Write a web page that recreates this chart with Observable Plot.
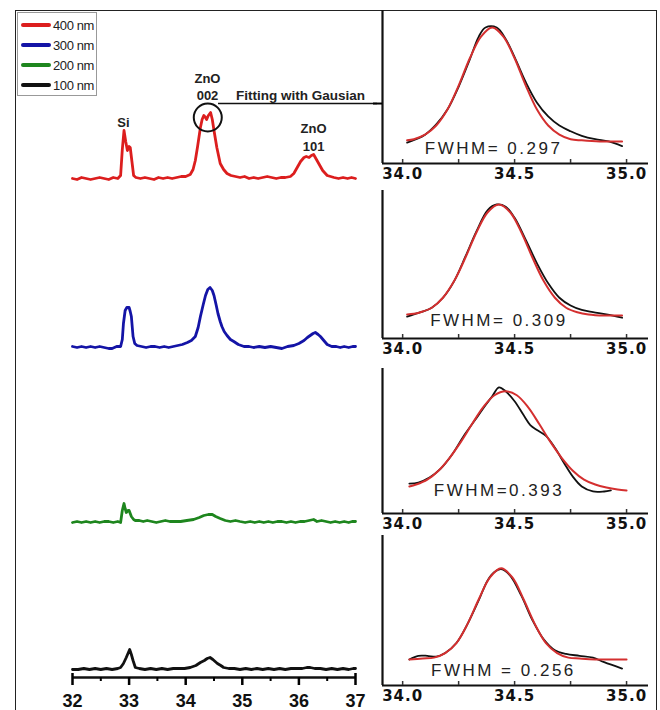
<!DOCTYPE html>
<html><head><meta charset="utf-8">
<script src="https://cdn.jsdelivr.net/npm/d3@7"></script>
<script src="https://cdn.jsdelivr.net/npm/@observablehq/plot@0.6"></script>
<style>
body{margin:0;background:#fff;}
#wrap{position:relative;width:660px;height:710px;overflow:hidden;font-family:"Liberation Sans",Arial,sans-serif;background:#fff;}
#wrap svg{position:absolute;overflow:visible;background:transparent;}
#frame{position:absolute;left:15px;top:10px;width:642px;height:712px;border:1px solid #222;box-sizing:border-box;}
#legend{position:absolute;left:17px;top:12px;width:80px;height:84px;border:1px solid #999;box-sizing:border-box;background:#fff;}
#legend .row{position:absolute;left:3px;height:20px;display:flex;align-items:center;white-space:nowrap;width:80px;}
#legend .sw{width:30px;height:4px;margin-right:2px;border-radius:2px;flex:none;}
#legend .lab{font-size:13px;color:#222;font-family:"Liberation Sans Narrow","Liberation Sans",Arial,sans-serif;letter-spacing:-0.4px;white-space:nowrap;}
</style></head><body>
<div id="wrap"><div id="frame"></div></div>
<script>
// ---------- data: left XRD patterns (2θ in degrees, intensity a.u.) ----------
const seriesNames = ["400 nm", "300 nm", "200 nm", "100 nm"];
const seriesColors = ["#dc1e1e", "#1414a6", "#1e861e", "#111111"];
const seriesOffsets = [498, 330, 155, 8];

const xrd400 = [[32.00,1],[32.08,0],[32.16,2],[32.24,1],[32.32,0],[32.40,1],[32.48,2],[32.56,1],[32.64,0],[32.72,2],[32.80,1],[32.85,4],[32.88,30],[32.91,49],[32.94,38],[32.97,29],[33.00,33],[33.02,32],[33.05,18],[33.08,4],[33.12,2],[33.20,1],[33.28,2],[33.36,1],[33.44,0],[33.52,2],[33.60,1],[33.68,2],[33.76,1],[33.84,2],[33.92,3],[34.00,3],[34.08,5],[34.13,10],[34.17,19],[34.21,33],[34.26,52],[34.29,60],[34.32,64],[34.35,62],[34.37,60],[34.40,64],[34.44,67],[34.47,60],[34.50,49],[34.55,32],[34.61,16],[34.67,10],[34.73,6],[34.80,4],[34.88,3],[34.96,2],[35.04,3],[35.12,1],[35.20,2],[35.28,1],[35.36,2],[35.44,3],[35.52,2],[35.60,1],[35.68,2],[35.76,2],[35.85,3],[35.91,6],[35.97,12],[36.03,18],[36.09,22],[36.13,23],[36.18,22],[36.22,24],[36.26,25],[36.30,21],[36.35,16],[36.42,9],[36.50,4],[36.56,3],[36.62,2],[36.70,1],[36.78,2],[36.86,1],[36.93,2],[37.00,1]];
const xrd300 = [[32.00,1],[32.08,0],[32.16,1],[32.24,0],[32.32,1],[32.40,0],[32.48,1],[32.56,0],[32.64,-1],[32.70,-1],[32.78,1],[32.85,1],[32.88,8],[32.90,24],[32.93,37],[32.96,40],[33.00,40],[33.02,36],[33.04,31],[33.07,11],[33.10,4],[33.14,2],[33.22,1],[33.30,0],[33.38,1],[33.46,1],[33.54,0],[33.62,1],[33.70,0],[33.78,1],[33.86,2],[33.94,3],[34.03,5],[34.10,7],[34.17,11],[34.22,20],[34.26,31],[34.31,43],[34.35,52],[34.39,58],[34.43,60],[34.47,57],[34.50,52],[34.54,42],[34.57,34],[34.61,26],[34.64,21],[34.68,16],[34.73,12],[34.79,8],[34.85,6],[34.93,3],[35.03,1],[35.12,1],[35.20,0],[35.30,1],[35.40,0],[35.50,1],[35.60,0],[35.70,-1],[35.80,1],[35.91,2],[36.00,4],[36.09,7],[36.15,10],[36.20,12],[36.25,14],[36.29,15],[36.34,13],[36.38,11],[36.44,7],[36.50,3],[36.58,1],[36.66,1],[36.73,0],[36.80,1],[36.88,0],[36.95,1],[37.00,1]];
const xrd200 = [[32.00,0],[32.08,1],[32.16,0],[32.24,1],[32.32,0],[32.40,1],[32.48,0],[32.56,1],[32.64,1],[32.72,0],[32.80,1],[32.85,0],[32.88,12],[32.91,19],[32.93,14],[32.95,10],[32.98,12],[33.00,12],[33.04,6],[33.08,3],[33.11,2],[33.18,2],[33.25,1],[33.32,2],[33.40,1],[33.48,0],[33.56,1],[33.64,2],[33.72,1],[33.80,1],[33.91,1],[34.02,2],[34.14,3],[34.24,5],[34.32,7],[34.40,8],[34.47,8],[34.53,6],[34.61,4],[34.70,2],[34.79,1],[34.88,2],[34.96,1],[35.05,0],[35.14,1],[35.22,0],[35.30,1],[35.38,0],[35.46,1],[35.54,0],[35.62,1],[35.70,1],[35.78,0],[35.86,1],[35.94,0],[36.02,1],[36.10,1],[36.18,2],[36.26,3],[36.32,1],[36.40,2],[36.48,1],[36.56,0],[36.64,1],[36.72,0],[36.80,1],[36.88,0],[36.94,1],[37.00,1]];
const xrd100 = [[32.00,0],[32.10,0],[32.20,1],[32.30,0],[32.40,1],[32.50,0],[32.60,1],[32.70,0],[32.80,1],[32.85,2],[32.90,6],[32.95,12],[33.01,20],[33.04,15],[33.07,9],[33.11,2],[33.18,1],[33.28,0],[33.38,1],[33.48,0],[33.58,1],[33.68,0],[33.78,1],[33.88,1],[33.98,1],[34.08,2],[34.18,4],[34.26,7],[34.33,9],[34.38,11],[34.43,12],[34.48,10],[34.52,8],[34.56,6],[34.62,4],[34.67,2],[34.76,1],[34.86,1],[34.96,0],[35.06,1],[35.16,0],[35.26,1],[35.36,0],[35.46,1],[35.56,0],[35.66,1],[35.76,0],[35.86,1],[35.96,1],[36.06,1],[36.14,2],[36.20,2],[36.28,1],[36.38,1],[36.48,0],[36.58,1],[36.68,0],[36.78,1],[36.88,0],[36.96,1],[37.00,1]];
const xrdSeries = [xrd400, xrd300, xrd200, xrd100];

const leftTicks = [32, 33, 34, 35, 36, 37];
const leftMinorTicks = [32.5, 33.5, 34.5, 35.5, 36.5];
const leftEndTicks = [32, 37];

// peak annotations [x (deg), y (a.u.), text]
const peakLabels = [[32.90, 555, "Si"], [34.385, 599, "ZnO"], [34.385, 582, "002"], [36.26, 549, "ZnO"], [36.26, 531, "101"]];
const circleMark = [[34.39, 560]];
const fitNote = {text: "Fitting with Gausian", x: 36.03, y: 582, x1: 34.58, x2: 37.39, yLine: 574};

// ---------- data: right panels (normalised intensity of the ZnO 002 peak) ----------
const fit400 = [[34.02,0.01],[34.05,0.02],[34.10,0.06],[34.15,0.14],[34.20,0.28],[34.25,0.49],[34.30,0.73],[34.35,0.92],[34.40,1.00],[34.45,0.92],[34.50,0.73],[34.55,0.49],[34.60,0.28],[34.65,0.14],[34.70,0.06],[34.75,0.02],[34.80,0.01],[34.88,0],[34.98,0]];
const obs400 = [[34.02,-0.01],[34.06,0.02],[34.10,0.06],[34.15,0.15],[34.20,0.28],[34.25,0.48],[34.30,0.72],[34.34,0.92],[34.37,1.00],[34.42,1.00],[34.46,0.90],[34.50,0.74],[34.55,0.52],[34.60,0.34],[34.65,0.22],[34.70,0.14],[34.75,0.09],[34.80,0.05],[34.86,0.02],[34.92,0.0],[34.98,-0.04]];
const fit300 = [[34.02,0.01],[34.05,0.015],[34.08,0.03],[34.13,0.07],[34.18,0.16],[34.23,0.31],[34.28,0.52],[34.33,0.75],[34.38,0.93],[34.43,1.00],[34.48,0.93],[34.53,0.75],[34.58,0.52],[34.63,0.31],[34.68,0.16],[34.73,0.07],[34.78,0.03],[34.83,0.01],[34.90,0],[34.98,0]];
const obs300 = [[34.02,-0.01],[34.05,0.01],[34.08,0.03],[34.13,0.07],[34.18,0.16],[34.23,0.31],[34.28,0.53],[34.33,0.76],[34.38,0.95],[34.42,1.00],[34.46,0.98],[34.50,0.88],[34.55,0.68],[34.60,0.47],[34.65,0.29],[34.70,0.16],[34.75,0.09],[34.80,0.05],[34.85,0.03],[34.91,0.01],[34.98,-0.02]];
const fit200 = [[34.03,0.04],[34.06,0.06],[34.11,0.11],[34.16,0.20],[34.21,0.33],[34.26,0.49],[34.31,0.67],[34.36,0.84],[34.41,0.96],[34.46,1.00],[34.51,0.96],[34.56,0.84],[34.61,0.67],[34.66,0.49],[34.71,0.33],[34.76,0.20],[34.81,0.11],[34.86,0.06],[34.91,0.03],[34.96,0.01],[35.00,0.0]];
const obs200 = [[34.03,0.07],[34.07,0.08],[34.12,0.13],[34.17,0.22],[34.22,0.36],[34.27,0.54],[34.32,0.70],[34.37,0.86],[34.40,0.95],[34.43,1.04],[34.46,1.00],[34.50,0.90],[34.54,0.76],[34.57,0.66],[34.60,0.61],[34.64,0.55],[34.68,0.43],[34.72,0.28],[34.76,0.14],[34.80,0.04],[34.85,-0.01],[34.90,-0.01],[34.93,0.0]];
const fit100 = [[34.03,0],[34.09,0.01],[34.14,0.02],[34.19,0.07],[34.24,0.18],[34.29,0.39],[34.34,0.66],[34.39,0.90],[34.44,1.00],[34.49,0.90],[34.54,0.66],[34.59,0.39],[34.64,0.18],[34.69,0.07],[34.74,0.02],[34.79,0.01],[34.86,0],[35.00,0]];
const obs100 = [[34.03,0.0],[34.07,0.04],[34.11,0.04],[34.15,0.03],[34.19,0.07],[34.24,0.18],[34.29,0.39],[34.34,0.65],[34.38,0.87],[34.41,0.96],[34.44,0.99],[34.48,0.92],[34.53,0.70],[34.58,0.43],[34.63,0.22],[34.68,0.10],[34.73,0.06],[34.79,0.04],[34.85,0.02],[34.90,-0.03],[34.98,-0.10]];
const fitSeries = [fit400, fit300, fit200, fit100];
const obsSeries = [obs400, obs300, obs200, obs100];
const fwhmLabels = ["FWHM= 0.297", "FWHM= 0.309", "FWHM=0.393", "FWHM = 0.256"];
const fwhmPos = [[34.406, -0.06], [34.43, -0.045], [34.43, 0.0], [34.45, -0.12]];
const rightTicks = [34.0, 34.5, 35.0];
const rightMinorTicks = [34.0, 34.25, 34.5, 34.75, 35.0];
const rightXDomain = [33.91, 35.098];
const panelYDomains = [[-0.193, 1.149], [-0.207, 1.126], [-0.232, 1.23], [-0.286, 1.36]];
const panelYTicks = [[0.333], [], [], []];

// ---------- layout ----------
const panelTops = [10, 190, 368, 535];
const panelHeights = [153, 148, 145, 150];

const wrap = document.getElementById("wrap");
const font = '"Liberation Sans", Arial, sans-serif';

// left plot
const leftMarks = [
  Plot.ruleY([0], {x1: 32, x2: 37, stroke: "#111", strokeWidth: 2.5}),
  Plot.axisX(leftTicks, {tickSize: 8, tickPadding: 9, strokeWidth: 2.5, fontSize: 18, fontWeight: "bold", fontFamily: font, tickFormat: d => String(d), fill: "#111", label: null}),
  Plot.axisX(leftMinorTicks, {tickSize: 4, strokeWidth: 2, tickFormat: () => "", label: null}),
  Plot.axisX(leftEndTicks, {anchor: "bottom", tickSize: -4, strokeWidth: 2.5, tickFormat: () => "", label: null}),
];
xrdSeries.forEach((s, i) => {
  leftMarks.push(Plot.line(s, {x: d => d[0], y: d => d[1] + seriesOffsets[i], stroke: seriesColors[i], strokeWidth: 2.8, strokeLinejoin: "round"}));
});
leftMarks.push(
  Plot.text(peakLabels, {x: d => d[0], y: d => d[1], text: d => d[2], fontSize: 13, fontWeight: "bold", fontFamily: font, fill: "#222"}),
  Plot.dot(circleMark, {x: d => d[0], y: d => d[1], r: 14, stroke: "#111", strokeWidth: 2, fill: "none"}),
  Plot.ruleY([fitNote.yLine], {x1: fitNote.x1, x2: fitNote.x2, stroke: "#111", strokeWidth: 1.6}),
  Plot.text([fitNote], {x: d => d.x, y: d => d.y, text: d => d.text, fontSize: 13.5, fontWeight: "bold", fontFamily: font, fill: "#222"})
);
const leftSvg = Plot.plot({
  width: 380, height: 710, marginLeft: 72, marginRight: 25, marginTop: 10, marginBottom: 33,
  x: {domain: [32, 37], label: null}, y: {domain: [0, 667], axis: null, label: null},
  style: {background: "transparent", fontFamily: font},
  marks: leftMarks
});
leftSvg.style.left = "0px"; leftSvg.style.top = "0px";
wrap.appendChild(leftSvg);

// right panels
fitSeries.forEach((fit, i) => {
  const H = panelHeights[i];
  const svg = Plot.plot({
    width: 330, height: H + 30, marginLeft: 50, marginRight: 14, marginTop: 0, marginBottom: 30,
    x: {domain: rightXDomain, label: null}, y: {domain: panelYDomains[i], axis: null, label: null},
    style: {background: "transparent", fontFamily: font},
    marks: [
      Plot.ruleX([rightXDomain[0]], {stroke: "#111", strokeWidth: 2.2}),
      Plot.ruleY([panelYDomains[i][0]], {stroke: "#111", strokeWidth: 2.2}),
      Plot.tickX(rightMinorTicks, {x: d => d, insetTop: H - 4, stroke: "#333", strokeWidth: 1.5}),
      Plot.axisX(rightTicks, {tickSize: 0, tickPadding: 5, tickFormat: d3.format(".1f"), fontSize: 15, fontWeight: "bold", fontFamily: '"DejaVu Sans", sans-serif', fill: "#111", label: null}),
      Plot.axisY(panelYTicks[i], {anchor: "left", tickSize: 9, strokeWidth: 2, tickFormat: () => "", label: null}),
      Plot.line(obsSeries[i], {x: d => d[0], y: d => d[1], stroke: "#111", strokeWidth: 1.8, curve: "catmull-rom"}),
      Plot.line(fit, {x: d => d[0], y: d => d[1], stroke: "#d42f2f", strokeWidth: 2, curve: "catmull-rom"}),
      Plot.text([fwhmPos[i]], {x: d => d[0], y: d => d[1], text: () => fwhmLabels[i], fontSize: 17, fontFamily: font, fill: "#222"})
    ]
  });
  svg.style.left = "332px"; svg.style.top = panelTops[i] + "px";
  d3.select(svg).selectAll("text").each(function() {
    const t = this.textContent;
    if (t.startsWith("FWHM")) this.setAttribute("letter-spacing", "2.5px");
    else if (/^3\d\.\d$/.test(t)) this.setAttribute("letter-spacing", "1px");
  });
  wrap.appendChild(svg);
});

// legend
const legend = document.createElement("div");
legend.id = "legend";
seriesNames.forEach((name, i) => {
  const row = document.createElement("div");
  row.className = "row";
  row.style.top = (2 + i * 20) + "px";
  row.innerHTML = `<div class="sw" style="background:${seriesColors[i]}"></div><span class="lab">${name}</span>`;
  legend.appendChild(row);
});
wrap.appendChild(legend);
</script>
</body></html>
